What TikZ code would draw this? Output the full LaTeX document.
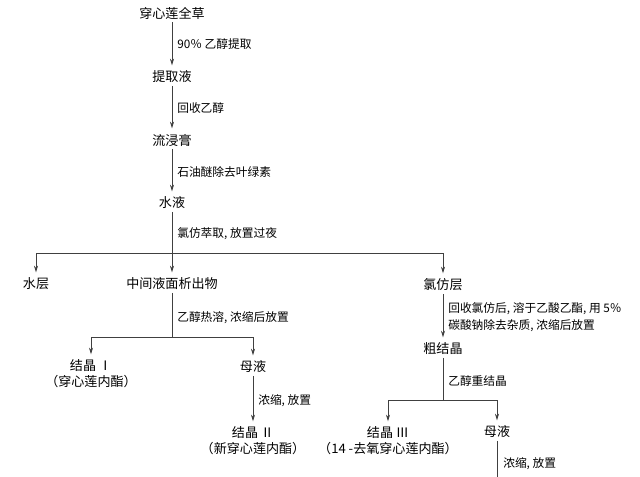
\documentclass[tikz,border=0pt]{standalone}
\usepackage{fontspec}
\setmainfont{Noto Sans CJK SC}
\usetikzlibrary{arrows.meta}

\tikzset{
  stage/.style={inner xsep=1pt, inner ysep=2pt, font=\fontsize{9.8}{12}\selectfont, align=center},
  note/.style={anchor=west, inner sep=0pt, font=\fontsize{8.8}{12.5}\selectfont, align=left},
  flow/.style={draw=black!75, line width=0.5pt, -{Stealth[length=5pt,width=3pt]}, shorten >=2pt},
  stem/.style={draw=black!75, line width=0.5pt}
}

\begin{document}
\begin{tikzpicture}[x=0.75pt,y=-0.75pt]
    \useasboundingbox (0,0) rectangle (640,477);

    % Main column
    \node[stage] (quancao) at (172,13) {穿心莲全草};
    \node[stage] (tiquye) at (172,77) {提取液};
    \node[stage] (liujingao) at (172,140) {流浸膏};
    \node[stage] (shuiye) at (172,203) {水液};

    \draw[flow] (quancao) -- (tiquye);
    \node[note] at (177,44) {90％ 乙醇提取};
    \draw[flow] (tiquye) -- (liujingao);
    \node[note] at (177,108) {回收乙醇};
    \draw[flow] (liujingao) -- (shuiye);
    \node[note] at (177,172) {石油醚除去叶绿素};

    % First split
    \coordinate (fen1) at (172,253);
    \node[stage] (shuiceng) at (36,284) {水层};
    \node[stage] (zhongjian) at (172,284) {中间液面析出物};
    \node[stage] (lvfangceng) at (443,285) {氯仿层};

    \draw[stem] (shuiye) -- (fen1);
    \node[note] at (177,234) {氯仿萃取, 放置过夜};
    \draw[flow] (fen1) -| (shuiceng);
    \draw[flow] (fen1) -- (zhongjian);
    \draw[flow] (fen1) -| (lvfangceng);

    % Left branch
    \coordinate (fen2) at (172,337);
    \node[stage] (jingti1) at (91,374) {结晶 Ⅰ\\（穿心莲内酯）};
    \node[stage] (muye1) at (253,367) {母液};
    \node[stage] (jingti2) at (253,441) {结晶 Ⅱ\\（新穿心莲内酯）};

    \draw[stem] (zhongjian) -- (fen2);
    \node[note] at (177,318) {乙醇热溶, 浓缩后放置};
    \draw[flow] (fen2) -| (jingti1);
    \draw[flow] (fen2) -| (muye1);
    \draw[flow] (muye1) -- (jingti2);
    \node[note] at (258,401) {浓缩, 放置};

    % Right branch
    \coordinate (fen3) at (443,400);
    \node[stage] (cujingti) at (443,349) {粗结晶};
    \node[stage] (jingti3) at (388,441) {结晶 Ⅲ\\（14 -去氧穿心莲内酯）};
    \node[stage] (muye2) at (497,432) {母液};
    \coordinate (dibu) at (497,477);

    \draw[flow] (lvfangceng) -- (cujingti);
    \node[note] at (448,317) {回收氯仿后, 溶于乙酸乙酯, 用 5％\\碳酸钠除去杂质, 浓缩后放置};
    \draw[stem] (cujingti) -- (fen3);
    \node[note] at (448,381) {乙醇重结晶};
    \draw[flow] (fen3) -| (jingti3);
    \draw[flow] (fen3) -| (muye2);
    \draw[stem] (muye2) -- (dibu);
    \node[note] at (503,464) {浓缩, 放置};

\end{tikzpicture}
\end{document}
